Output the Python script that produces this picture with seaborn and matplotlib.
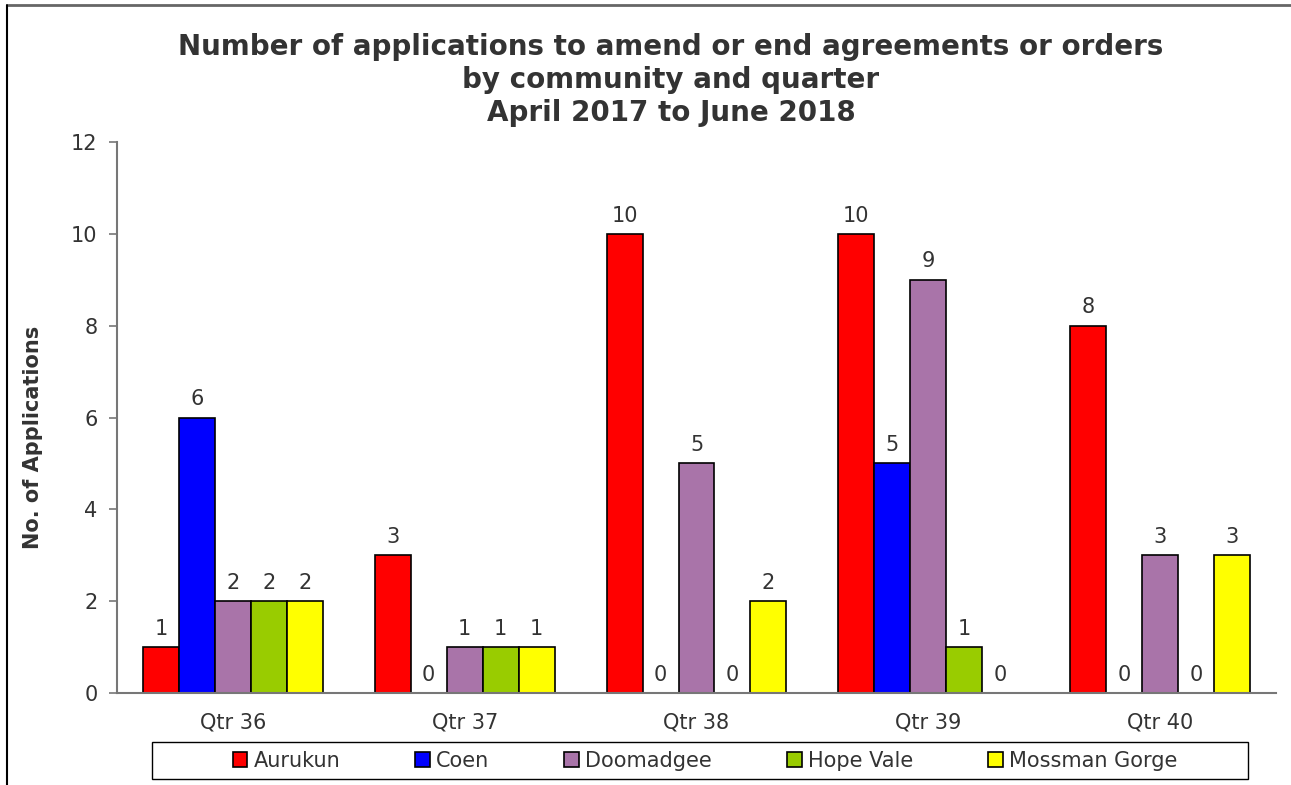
import numpy as np
import pandas as pd
import matplotlib
matplotlib.use("Agg")
import matplotlib.pyplot as plt
from matplotlib.lines import Line2D
from matplotlib.patches import Rectangle
import seaborn as sns

# ========== Data ==========
quarters = ["Qtr 36", "Qtr 37", "Qtr 38", "Qtr 39", "Qtr 40"]
communities = ["Aurukun", "Coen", "Doomadgee", "Hope Vale", "Mossman Gorge"]
aurukun = [1, 3, 10, 10, 8]
coen = [6, 0, 0, 5, 0]
doomadgee = [2, 1, 5, 9, 3]
hope_vale = [2, 1, 0, 1, 0]
mossman_gorge = [2, 1, 2, 0, 3]
colors = ["#FF0000", "#0000FF", "#A974A9", "#99CC00", "#FFFF00"]

series = [aurukun, coen, doomadgee, hope_vale, mossman_gorge]
df = pd.DataFrame(
    [(q, c, v[i]) for c, v in zip(communities, series) for i, q in enumerate(quarters)],
    columns=["quarter", "community", "count"],
)

# ========== Plot ==========
sns.set_style("white")
plt.rcParams["font.family"] = ["DejaVu Sans"]
text_col = "#333333"
fs = 15

fig = plt.figure(figsize=(12.91, 7.85), dpi=100)
ax = fig.add_axes([117 / 1291, 1 - 693 / 785, 1159 / 1291, 551 / 785])

sns.barplot(data=df, x="quarter", y="count", hue="community",
            order=quarters, hue_order=communities, palette=colors,
            width=0.776, gap=0, edgecolor="black", linewidth=1.2,
            saturation=1, legend=False, ax=ax)

for cont in ax.containers:
    ax.bar_label(cont, padding=6, fontsize=fs, color=text_col)

ax.set_xlim(-0.5, 4.5)
ax.set_ylim(0, 12)
ax.set_yticks(range(0, 13, 2))
ax.set_xticks(np.arange(-0.5, 5, 1), minor=True)
ax.tick_params(axis="x", which="major", length=0, pad=14, labelsize=fs, labelcolor=text_col)
ax.tick_params(axis="x", which="minor", length=6, direction="out", color="#777777", width=1.2)
ax.tick_params(axis="y", length=6, direction="out", color="#777777", width=1.2,
               labelsize=fs, labelcolor=text_col, pad=8, left=True)
for s in ["top", "right"]:
    ax.spines[s].set_visible(False)
for s in ["left", "bottom"]:
    ax.spines[s].set_color("#777777")
    ax.spines[s].set_linewidth(1.5)
ax.set_xlabel("")
ax.set_ylabel("No. of Applications", fontsize=fs, fontweight="bold", color=text_col)
ax.yaxis.set_label_coords((43 - 117) / 1159, (693 - 437) / 551)

fig.text(671 / 1291, 1 - 80 / 785,
         "Number of applications to amend or end agreements or orders\nby community and quarter\nApril 2017 to June 2018",
         ha="center", va="center", fontsize=20, fontweight="bold", color=text_col, linespacing=1.22)

# legend
handles = [Rectangle((0, 0), 1, 1, facecolor=c, edgecolor="black", linewidth=1.2) for c in colors]
fig.legend(handles, communities, loc="center", bbox_to_anchor=(705 / 1291, 1 - 761 / 785),
           ncol=5, frameon=False, fontsize=fs, handlelength=0.7, handleheight=0.7,
           handletextpad=0.3, columnspacing=3.6, labelcolor=text_col)
fig.patches.append(Rectangle((152 / 1291, 1 - 779 / 785), 1096 / 1291, 37 / 785,
                             transform=fig.transFigure, fill=False, edgecolor="black", linewidth=1))

# chart border (top and left visible)
fig.lines.append(Line2D([8 / 1291, 1], [1 - 5 / 785] * 2, transform=fig.transFigure, color="#666666", lw=2))
fig.lines.append(Line2D([7 / 1291] * 2, [0, 1 - 5 / 785], transform=fig.transFigure, color="black", lw=1.5))

fig.savefig("out.png", dpi=100)
